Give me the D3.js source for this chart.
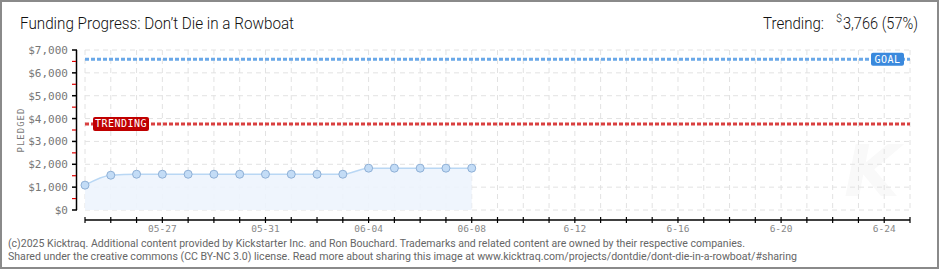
<!DOCTYPE html>
<html><head><meta charset="utf-8">
<script src="https://cdn.jsdelivr.net/npm/d3@7"></script>
<style>
html,body{margin:0;padding:0;background:#fff;}
svg{display:block;}
</style></head>
<body>
<svg id="c" width="940" height="270"></svg>
<script>
// ---- data ----
const dates = ["2025-05-24","2025-05-25","2025-05-26","2025-05-27","2025-05-28","2025-05-29","2025-05-30","2025-05-31","2025-06-01","2025-06-02","2025-06-03","2025-06-04","2025-06-05","2025-06-06","2025-06-07","2025-06-08"];
const pledged = [1087,1522,1565,1565,1565,1565,1565,1565,1565,1565,1565,1830,1830,1830,1830,1830];
const goal = 6600;
const trending = 3766;
const yTicks = [0,1000,2000,3000,4000,5000,6000,7000];
const yMinorTicks = [500,1500,2500,3500,4500,5500,6500];
const xLabelDates = ["2025-05-27","2025-05-31","2025-06-04","2025-06-08","2025-06-12","2025-06-16","2025-06-20","2025-06-24"];
const xLabelTexts = ["05-27","05-31","06-04","06-08","6-12","6-16","6-20","6-24"];
const domainStart = "2025-05-24", domainEnd = "2025-06-25";
const titleText = "Funding Progress: Don\u2019t Die in a Rowboat";
const footer1 = "(c)2025 Kicktraq. Additional content provided by Kickstarter Inc. and Ron Bouchard. Trademarks and related content are owned by their respective companies.";
const footer2 = "Shared under the creative commons (CC BY-NC 3.0) license. Read more about sharing this image at www.kicktraq.com/projects/dontdie/dont-die-in-a-rowboat/#sharing";

const parse = d3.utcParse("%Y-%m-%d");
const svg = d3.select("#c");
const FONT = "Roboto, 'Liberation Sans', sans-serif";

// border
svg.append("rect").attr("x",1).attr("y",1).attr("width",937).attr("height",267)
  .attr("fill","#fff").attr("stroke","#8a8a8a").attr("stroke-width",2);

const x = d3.scaleUtc().domain([parse(domainStart), parse(domainEnd)]).range([85, 910]);
const y = d3.scaleLinear().domain([0,7000]).range([210, 50]);

// watermark
svg.append("text").attr("x",872).attr("y",196).attr("text-anchor","middle")
  .attr("font-family","DejaVu Sans").attr("font-style","italic").attr("font-weight","bold")
  .attr("font-size",72).attr("fill","#f9f9f9").text("K");

// grid
const allDays = d3.utcDay.range(parse(domainStart), d3.utcDay.offset(parse(domainEnd),1));
const g = svg.append("g");
g.selectAll(".vg").data(allDays).join("line")
  .attr("x1",d=>x(d)).attr("x2",d=>x(d)).attr("y1",y(7000)).attr("y2",y(0))
  .attr("stroke","#e2e2e2").attr("stroke-dasharray","5,4");
g.selectAll(".hg").data(yTicks).join("line")
  .attr("x1",x(parse(domainStart))).attr("x2",x(parse(domainEnd))).attr("y1",d=>y(d)).attr("y2",d=>y(d))
  .attr("stroke","#e2e2e2").attr("stroke-dasharray","5,4");

// area + line
const pts = dates.map((d,i)=>({d:parse(d), v:pledged[i]}));
svg.append("path").datum(pts)
  .attr("d", d3.area().x(p=>x(p.d)).y0(y(0)).y1(p=>y(p.v)).curve(d3.curveMonotoneX))
  .attr("fill","#edf4fd").attr("fill-opacity",0.9);
svg.append("path").datum(pts)
  .attr("d", d3.line().x(p=>x(p.d)).y(p=>y(p.v)).curve(d3.curveMonotoneX))
  .attr("fill","none").attr("stroke","#b9d7f4").attr("stroke-width",1.5);

// goal & trending lines
svg.append("line").attr("x1",x(parse(domainStart))).attr("x2",x(parse(domainEnd)))
  .attr("y1",y(goal)).attr("y2",y(goal)).attr("stroke","#6aa8e8").attr("stroke-width",3).attr("stroke-dasharray","4,2");
svg.append("line").attr("x1",x(parse(domainStart))).attr("x2",x(parse(domainEnd)))
  .attr("y1",y(trending)).attr("y2",y(trending)).attr("stroke","#d94040").attr("stroke-width",3).attr("stroke-dasharray","4,2");

// points
svg.selectAll(".pt").data(pts).join("circle")
  .attr("cx",p=>x(p.d)).attr("cy",p=>y(p.v)).attr("r",4)
  .attr("fill","#c3dcf6").attr("stroke","#8fb0d6").attr("stroke-width",1);

// badges
function badge(x0, cy, w, h, fill, label){
  svg.append("rect").attr("x",x0).attr("y",cy-h/2).attr("width",w).attr("height",h)
    .attr("rx",2).attr("fill",fill);
  svg.append("text").attr("x",x0+w/2).attr("y",cy+3.5).attr("text-anchor","middle")
    .attr("font-family","DejaVu Sans Mono").attr("font-size",10).attr("fill","#fff")
    .attr("letter-spacing",0.5).text(label);
}
badge(93, y(trending), 56, 14, "#c00000", "TRENDING");
badge(871, y(goal), 33, 13, "#3a89dd", "GOAL");

// y axis
const ya = svg.append("g");
ya.append("line").attr("x1",76.5).attr("x2",76.5).attr("y1",y(7000)).attr("y2",y(0)).attr("stroke","#000").attr("stroke-width",1.5);
ya.selectAll(".mt").data(yTicks).join("line")
  .attr("x1",72).attr("x2",77).attr("y1",d=>y(d)).attr("y2",d=>y(d)).attr("stroke","#000").attr("stroke-width",1.5);
ya.selectAll(".nt").data(yMinorTicks).join("line")
  .attr("x1",72).attr("x2",76).attr("y1",d=>y(d)).attr("y2",d=>y(d)).attr("stroke","#e00000").attr("stroke-width",1.2);
ya.selectAll(".yl").data(yTicks).join("text")
  .attr("x",68).attr("y",d=>y(d)+4).attr("text-anchor","end")
  .attr("font-family","DejaVu Sans Mono").attr("font-size",11).attr("fill","#777")
  .text(d=>"$"+d3.format(",")(d));
svg.append("text").attr("transform","translate(24,130) rotate(-90)").attr("text-anchor","middle")
  .attr("font-family","DejaVu Sans Mono").attr("font-size",9).attr("fill","#777")
  .attr("letter-spacing",1).text("PLEDGED");

// x axis
const xa = svg.append("g");
xa.append("line").attr("x1",x(parse(domainStart))).attr("x2",x(parse(domainEnd))).attr("y1",220).attr("y2",220)
  .attr("stroke","#000").attr("stroke-width",1.5);
xa.selectAll(".xt").data(allDays).join("line")
  .attr("x1",d=>x(d)).attr("x2",d=>x(d)).attr("y1",217).attr("y2",223).attr("stroke","#000").attr("stroke-width",1.2);
xa.selectAll(".xl").data(xLabelDates).join("text")
  .attr("x",d=>x(parse(d))).attr("y",232).attr("text-anchor","middle")
  .attr("font-family","DejaVu Sans Mono").attr("font-size",9.5).attr("fill","#888")
  .text((d,i)=>xLabelTexts[i]);

// title
svg.append("text").attr("x",20).attr("y",29).attr("font-family",FONT).attr("font-weight",300)
  .attr("font-size",17).attr("fill","#111").attr("textLength",274).attr("lengthAdjust","spacingAndGlyphs")
  .text(titleText);

// trending summary
svg.append("text").attr("x",763).attr("y",29).attr("font-family",FONT).attr("font-weight",300)
  .attr("font-size",17).attr("fill","#111").attr("textLength",61).attr("lengthAdjust","spacingAndGlyphs").text("Trending:");
svg.append("text").attr("x",836).attr("y",22).attr("font-family",FONT).attr("font-weight",300)
  .attr("font-size",11).attr("fill","#111").text("$");
svg.append("text").attr("x",843).attr("y",29).attr("font-family",FONT).attr("font-weight",300)
  .attr("font-size",17).attr("fill","#111").attr("textLength",75).attr("lengthAdjust","spacingAndGlyphs")
  .text(d3.format(",")(trending)+" ("+Math.round(trending/goal*100)+"%)");

// footer
svg.append("text").attr("x",8).attr("y",247).attr("font-family",FONT)
  .attr("font-size",10.5).attr("fill","#666").attr("textLength",737).attr("lengthAdjust","spacingAndGlyphs").text(footer1);
svg.append("text").attr("x",8).attr("y",260).attr("font-family",FONT)
  .attr("font-size",10.5).attr("fill","#666").attr("textLength",789).attr("lengthAdjust","spacingAndGlyphs").text(footer2);
</script>
</body></html>
